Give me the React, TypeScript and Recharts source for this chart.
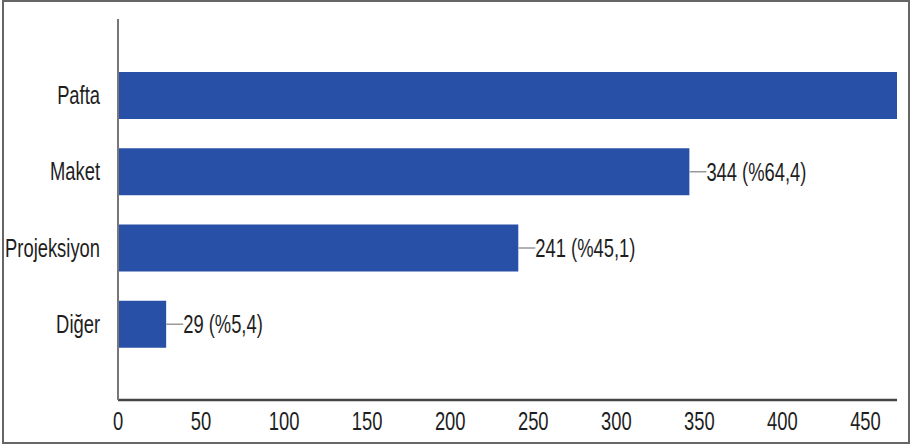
import { BarChart, Bar, XAxis, YAxis, LabelList } from 'recharts'

const categories = ['Pafta', 'Maket', 'Projeksiyon', 'Diğer']
const counts = [469, 344, 241, 29]
const percents = ['%87,8', '%64,4', '%45,1', '%5,4']
const xTicks = [0, 50, 100, 150, 200, 250, 300, 350, 400, 450]
const X_MAX = 469

const BAR = '#2850a6'
const FONT = '"Liberation Sans", Arial, sans-serif'
const SQUEEZE = 0.735

const data = categories.map((c, i) => ({ category: c, count: counts[i], pct: percents[i] }))

function SqueezedText({ x, y, anchor, children }: { x: number; y: number; anchor: 'start' | 'middle' | 'end'; children: string }) {
  return (
    <text
      transform={`translate(${x},${y}) scale(${SQUEEZE},1)`}
      textAnchor={anchor}
      dy="0.36em"
      fontFamily={FONT}
      fontSize={25}
      fill="#1e1e1e"
    >
      {children}
    </text>
  )
}

const YTick = ({ x, y, payload }: any) => (
  <SqueezedText x={x} y={y} anchor="end">{payload.value}</SqueezedText>
)

const XTick = ({ x, y, payload }: any) => (
  <SqueezedText x={x} y={y + 13} anchor="middle">{String(payload.value)}</SqueezedText>
)

// leader line + "count (%pct)" to the right of each bar
const BarLabel = (props: any) => {
  const { x, y, width, height, index } = props
  if (counts[index] >= X_MAX) return null
  const end = x + width
  const cy = y + height / 2
  return (
    <g>
      <line x1={end} y1={cy} x2={end + 17} y2={cy} stroke="#999" strokeWidth={1.5} />
      <SqueezedText x={end + 17} y={cy} anchor="start">{`${counts[index]} (${percents[index]})`}</SqueezedText>
    </g>
  )
}

export default function App() {
  return (
    <div style={{ position: 'absolute', left: 0, top: 0, width: 911, height: 446, background: '#fff' }}>
      <BarChart
        width={911}
        height={446}
        data={data}
        layout="vertical"
        margin={{ top: 19, right: 14, bottom: 16, left: 0 }}
      >
        <XAxis
          type="number"
          domain={[0, X_MAX]}
          ticks={xTicks}
          allowDataOverflow
          height={30}
          tickLine={false}
          axisLine={{ stroke: '#444', strokeWidth: 2.5 }}
          tick={<XTick />}
          interval={0}
        />
        <YAxis
          type="category"
          dataKey="category"
          width={118}
          padding={{ top: 38, bottom: 38 }}
          tickLine={false}
          axisLine={{ stroke: '#777', strokeWidth: 2 }}
          tick={<YTick />}
          tickMargin={12}
          interval={0}
        />
        <Bar dataKey="count" fill={BAR} barSize={47} isAnimationActive={false}>
          <LabelList dataKey="count" content={<BarLabel />} />
        </Bar>
      </BarChart>
      <div
        style={{
          position: 'absolute', left: 2, top: 0, width: 908, height: 444,
          border: '2px solid #666', boxSizing: 'border-box', pointerEvents: 'none',
        }}
      />
    </div>
  )
}
